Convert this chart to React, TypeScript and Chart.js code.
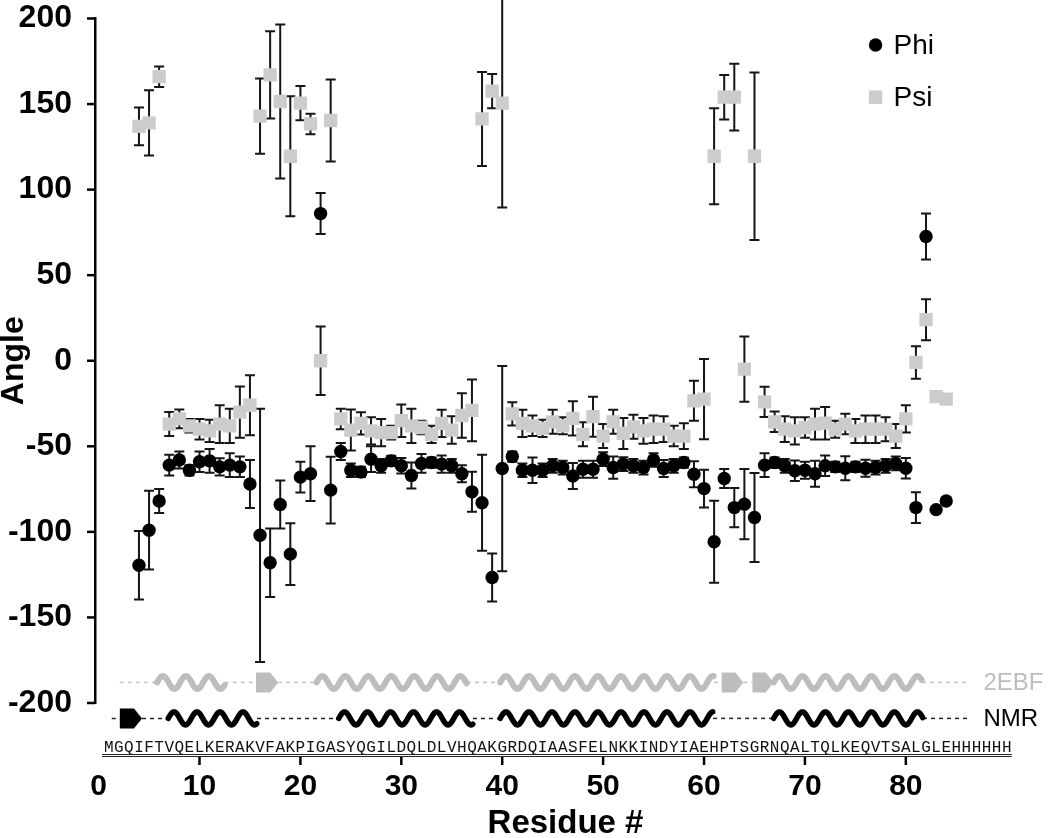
import React, { useEffect, useRef } from "react";
import { Chart, registerables } from "chart.js";

Chart.register(...registerables);

// ---------------- data ----------------
const residues = [
  4, 5, 6, 7, 8, 9, 10, 11, 12, 13, 14, 15, 16, 17, 18, 19, 20, 21, 22, 23,
  24, 25, 26, 27, 28, 29, 30, 31, 32, 33, 34, 35, 36, 37, 38, 39, 40, 41, 42, 43,
  44, 45, 46, 47, 48, 49, 50, 51, 52, 53, 54, 55, 56, 57, 58, 59, 60, 61, 62, 63,
  64, 65, 66, 67, 68, 69, 70, 71, 72, 73, 74, 75, 76, 77, 78, 79, 80, 81, 82, 83, 84,
];
const phi = [
  -119.5, -99, -82, -61, -58, -64, -59, -58.5, -62, -61, -62, -72, -102, -118, -84, -113, -68, -66, 86, -75.6,
  -53, -64, -65, -57.5, -61.4, -58.5, -61.4, -67, -60, -59.5, -60.4, -61.4, -66, -76.6, -83, -126.7, -63, -56, -64, -64,
  -64, -61.4, -62.4, -67.3, -63.4, -63.4, -57.5, -62.4, -60.4, -61.4, -62.4, -58, -63, -61.4, -59.5, -66.3, -74.7, -105.8, -68.8, -85.8,
  -83.8, -91.6, -61, -59.5, -61.4, -64.3, -64, -66, -61.4, -62, -62.8, -62, -62.8, -62.4, -61.4, -60, -62.8, -85.8, 72.6, -87, -82,
];
const phiErr = [
  20, 23, 7, 6, 5, 3, 6, 7, 5, 7, 6, 14, 74, 20, 14, 18, 9, 16, 12, 19.5,
  5, 4, 3, 7.5, 4, 3, 4.5, 7.6, 5.5, 3, 5, 4, 5, 11.7, 28, 14, 60, 3, 4, 7.5,
  4, 4, 4, 7.6, 5, 5, 4, 6.5, 4, 4, 4, 4, 5, 4, 3, 7.6, 11, 24, 5.5, 11.5,
  20.5, 26, 7, 3, 4, 6, 5, 7.6, 6, 3, 7, 3, 5, 4, 4, 4, 6, 9, 13.5, 0, 0,
];
const psi = [
  137, 139, 166, -37, -34, -38, -40, -41, -37, -38, -30, -26, 143, 167, 151.5, 119.5, 150.5, 138.4, 0, 140.4,
  -34, -40.5, -36.6, -41, -42, -42, -35, -38, -39, -43, -36.6, -40.5, -32, -29, 141.3, 157.5, 150.5, -31, -36.6, -38,
  -39.5, -35.7, -38, -33.7, -43, -32.7, -44, -35.7, -42.5, -38.6, -41, -40, -40, -44, -44, -23.4, -22.4, 119.5, 154, 154,
  -4.9, 119.5, -24, -35.7, -40, -41, -39, -37, -36.5, -40, -37, -41, -40, -40, -40, -44, -34, -1, 24, -21, -22.4,
];
const psiErr = [
  11, 19, 6, 7, 5.5, 4, 6, 6.5, 11, 10, 15, 17.5, 22, 25.5, 45, 35, 10, 6, 20, 24,
  6, 12, 6.5, 8, 8, 4, 9.5, 10, 4, 5, 8, 8, 13, 18, 27.5, 10, 61, 6.8, 8, 6,
  5, 7, 5, 10, 7, 11.7, 7, 7, 9, 7, 7.5, 8, 7.5, 6, 7.5, 11.7, 23.4, 28, 13, 19.5,
  19, 49, 8.8, 6, 7.5, 8, 6, 9, 9.5, 5, 6, 7, 8, 8, 7, 7, 8, 9.5, 12, 0, 0,
];

const xTickValues = [0, 10, 20, 30, 40, 50, 60, 70, 80];
const yTickValues = [-200, -150, -100, -50, 0, 50, 100, 150, 200];
const sequence =
  "MGQIFTVQELKERAKVFAKPIGASYQGILDQLDLVHQAKGRDQIAASFELNKKINDYIAEHPTSGRNQALTQLKEQVTSALGLEHHHHHH";

// secondary structure (residue ranges)
const helices2EBF = [[5.8, 12.5], [21.6, 36.5], [39.8, 61.0], [66.9, 81.6]];
const strands2EBF = [[15.6, 17.8], [61.75, 63.9], [64.8, 66.9]];
const span2EBF = [2.1, 86.2];
const helicesNMR = [[6.9, 15.7], [23.8, 37.1], [39.8, 60.9], [66.9, 81.7]];
const strandsNMR = [[2.1, 4.3]];
const spanNMR = [1.3, 86.2];
const rowLabels = ["2EBF", "NMR"];
const seriesLabels = ["Phi", "Psi"];

const SANS = "'Liberation Sans', Arial, Helvetica, sans-serif";
const MONO = "'Courier New', 'Liberation Mono', monospace";
const PSI_COLOR = "#cccccc";
const GRAY_SS = "#bdbdbd";

function drawHelix(ctx: CanvasRenderingContext2D, x1: number, x2: number, y: number, color: string, lw: number) {
  const period = 23;
  const amp = 6.5;
  ctx.save();
  ctx.beginPath();
  for (let x = x1; x <= x2; x += 0.5) {
    const t = ((x - x1) / period) * 2 * Math.PI;
    const yy = y - amp * Math.sin(t);
    if (x === x1) ctx.moveTo(x, yy);
    else ctx.lineTo(x, yy);
  }
  ctx.strokeStyle = color;
  ctx.lineWidth = lw;
  ctx.lineCap = "round";
  ctx.lineJoin = "round";
  ctx.stroke();
  ctx.restore();
}

function drawStrand(ctx: CanvasRenderingContext2D, x1: number, x2: number, y: number, color: string) {
  const h = 20;
  const tip = 8;
  ctx.save();
  ctx.beginPath();
  ctx.moveTo(x1, y - h / 2);
  ctx.lineTo(x2 - tip, y - h / 2);
  ctx.lineTo(x2, y);
  ctx.lineTo(x2 - tip, y + h / 2);
  ctx.lineTo(x1, y + h / 2);
  ctx.closePath();
  ctx.fillStyle = color;
  ctx.fill();
  ctx.restore();
}

function drawRow(
  chart: any,
  yVal: number,
  helices: number[][],
  strands: number[][],
  span: number[],
  color: string,
  dashColor: string,
  lw: number,
  label: string
) {
  const ctx = chart.ctx as CanvasRenderingContext2D;
  const xs = chart.scales.x;
  const y = chart.scales.y.getPixelForValue(yVal);
  const elems = [...helices, ...strands].sort((a, b) => a[0] - b[0]);
  ctx.save();
  ctx.strokeStyle = dashColor;
  ctx.lineWidth = 1.5;
  ctx.setLineDash([4, 4]);
  let cur = span[0];
  const gaps: number[][] = [];
  elems.forEach((e) => {
    if (e[0] > cur) gaps.push([cur, e[0]]);
    cur = Math.max(cur, e[1]);
  });
  if (span[1] > cur) gaps.push([cur, span[1]]);
  gaps.forEach(([a, b]) => {
    ctx.beginPath();
    ctx.moveTo(xs.getPixelForValue(a), y);
    ctx.lineTo(xs.getPixelForValue(b), y);
    ctx.stroke();
  });
  ctx.restore();
  helices.forEach(([a, b]) => drawHelix(ctx, xs.getPixelForValue(a), xs.getPixelForValue(b), y, color, lw));
  strands.forEach(([a, b]) => drawStrand(ctx, xs.getPixelForValue(a), xs.getPixelForValue(b), y, color));
  ctx.save();
  ctx.fillStyle = color;
  ctx.font = `24px ${SANS}`;
  ctx.textAlign = "left";
  ctx.textBaseline = "middle";
  ctx.fillText(label, xs.getPixelForValue(span[1]) + 15, y + 1);
  ctx.restore();
}

const decorPlugin = {
  id: "decor",
  beforeDatasetsDraw(chart: any) {
    const ctx = chart.ctx as CanvasRenderingContext2D;
    const xs = chart.scales.x;
    const ys = chart.scales.y;
    ctx.save();
    ctx.strokeStyle = "#151515";
    ctx.lineWidth = 2;
    const sets: [number[], number[]][] = [
      [psi, psiErr],
      [phi, phiErr],
    ];
    sets.forEach(([vals, errs]) => {
      residues.forEach((r, j) => {
        const e = errs[j];
        if (!e) return;
        const x = xs.getPixelForValue(r);
        const y1 = ys.getPixelForValue(vals[j] + e);
        const y2 = ys.getPixelForValue(vals[j] - e);
        ctx.beginPath();
        ctx.moveTo(x, y1);
        ctx.lineTo(x, y2);
        ctx.moveTo(x - 5, y1);
        ctx.lineTo(x + 5, y1);
        ctx.moveTo(x - 5, y2);
        ctx.lineTo(x + 5, y2);
        ctx.stroke();
      });
    });
    ctx.restore();
  },
  afterDraw(chart: any) {
    const ctx = chart.ctx as CanvasRenderingContext2D;
    const xs = chart.scales.x;
    const ys = chart.scales.y;

    // y tick marks (short, outside the axis)
    ctx.save();
    ctx.strokeStyle = "#000";
    ctx.lineWidth = 2.5;
    yTickValues.forEach((v) => {
      const y = ys.getPixelForValue(v);
      ctx.beginPath();
      ctx.moveTo(ys.right - 8, y);
      ctx.lineTo(ys.right, y);
      ctx.stroke();
    });
    ctx.restore();

    drawRow(chart, -188, helices2EBF, strands2EBF, span2EBF, GRAY_SS, "#c4c4c4", 6, rowLabels[0]);
    drawRow(chart, -209, helicesNMR, strandsNMR, spanNMR, "#000000", "#222222", 5.5, rowLabels[1]);

    // sequence
    const seqBase = 752;
    ctx.save();
    ctx.fillStyle = "#111";
    ctx.font = `16px ${MONO}`;
    ctx.textAlign = "center";
    ctx.textBaseline = "alphabetic";
    for (let i = 0; i < sequence.length; i++) {
      ctx.fillText(sequence[i], xs.getPixelForValue(i + 1), seqBase);
    }
    ctx.strokeStyle = "#222";
    ctx.lineWidth = 1;
    const ux1 = xs.getPixelForValue(0.35);
    const ux2 = xs.getPixelForValue(sequence.length + 0.5);
    ctx.beginPath();
    ctx.moveTo(ux1, seqBase + 2.5);
    ctx.lineTo(ux2, seqBase + 2.5);
    ctx.moveTo(ux1, seqBase + 4.5);
    ctx.lineTo(ux2, seqBase + 4.5);
    ctx.stroke();
    ctx.restore();

    // x tick marks below the sequence
    ctx.save();
    ctx.strokeStyle = "#000";
    ctx.lineWidth = 2.5;
    xTickValues.forEach((v) => {
      if (v === 0) return;
      const x = xs.getPixelForValue(v);
      ctx.beginPath();
      ctx.moveTo(x, 757);
      ctx.lineTo(x, 765);
      ctx.stroke();
    });
    ctx.restore();

    // legend (top right)
    ctx.save();
    const lx = xs.getPixelForValue(77);
    const ly1 = ys.getPixelForValue(184.5);
    const ly2 = ys.getPixelForValue(154);
    ctx.fillStyle = "#000";
    ctx.beginPath();
    ctx.arc(lx, ly1, 6.7, 0, Math.PI * 2);
    ctx.fill();
    ctx.fillStyle = PSI_COLOR;
    ctx.fillRect(lx - 6.7, ly2 - 6.7, 13.4, 13.4);
    ctx.fillStyle = "#000";
    ctx.font = `28px ${SANS}`;
    ctx.textAlign = "left";
    ctx.textBaseline = "middle";
    ctx.fillText(seriesLabels[0], lx + 18, ly1 + 1);
    ctx.fillText(seriesLabels[1], lx + 18, ly2 + 1);
    ctx.restore();
  },
};

export default function App() {
  const ref = useRef<HTMLCanvasElement | null>(null);
  useEffect(() => {
    if (!ref.current) return;
    const chart = new Chart(ref.current, {
      type: "scatter",
      data: {
        datasets: [
          {
            label: seriesLabels[0],
            data: residues.map((r, j) => ({ x: r, y: phi[j] })),
            pointStyle: "circle",
            pointRadius: 6.7,
            pointBackgroundColor: "#000000",
            pointBorderWidth: 0,
            pointHoverRadius: 6.7,
          },
          {
            label: seriesLabels[1],
            data: residues.map((r, j) => ({ x: r, y: psi[j] })),
            pointStyle: "rect",
            pointRadius: 9.4,
            pointBackgroundColor: PSI_COLOR,
            pointBorderWidth: 0,
            pointHoverRadius: 9.4,
          },
        ],
      },
      options: {
        animation: false,
        responsive: false,
        maintainAspectRatio: false,
        layout: { padding: { top: 18.5, right: 14, left: 0, bottom: 0 } },
        plugins: {
          legend: { display: false },
          tooltip: { enabled: false },
        },
        scales: {
          x: {
            type: "linear",
            min: -0.357,
            max: 92.9,
            afterFit: (s: any) => {
              s.height = 135;
            },
            afterBuildTicks: (s: any) => {
              s.ticks = xTickValues.map((v) => ({ value: v }));
            },
            grid: { display: false, drawTicks: false },
            border: { display: false },
            ticks: {
              autoSkip: false,
              maxRotation: 0,
              padding: 69,
              color: "#000",
              font: { family: SANS, size: 30, weight: "bold", lineHeight: 1 },
              callback: (v: any) => String(v),
            },
            title: {
              display: true,
              text: "Residue #",
              color: "#000",
              font: { family: SANS, size: 33, weight: "bold", lineHeight: 1 },
              padding: { top: 0, bottom: -2 },
            },
          },
          y: {
            type: "linear",
            min: -200,
            max: 200,
            afterFit: (s: any) => {
              s.width = 95;
            },
            afterBuildTicks: (s: any) => {
              s.ticks = yTickValues.map((v) => ({ value: v }));
            },
            grid: {
              drawOnChartArea: false,
              drawTicks: true,
              tickLength: 23,
              tickColor: "rgba(0,0,0,0)",
            },
            border: { display: true, color: "#000", width: 2.5 },
            ticks: {
              padding: 0,
              color: "#000",
              font: { family: SANS, size: 32, weight: "bold", lineHeight: 1 },
              callback: (v: any) => String(v),
            },
            title: {
              display: true,
              text: "Angle",
              color: "#000",
              font: { family: SANS, size: 32, weight: "bold", lineHeight: 1 },
              padding: { top: -2, bottom: 0 },
            },
          },
        },
      },
      plugins: [decorPlugin],
    } as any);
    return () => chart.destroy();
  }, []);
  return (
    <div style={{ position: "fixed", left: 0, top: 0, width: 1050, height: 838, background: "#fff" }}>
      <canvas ref={ref} width={1050} height={838} style={{ width: 1050, height: 838, display: "block" }} />
    </div>
  );
}
